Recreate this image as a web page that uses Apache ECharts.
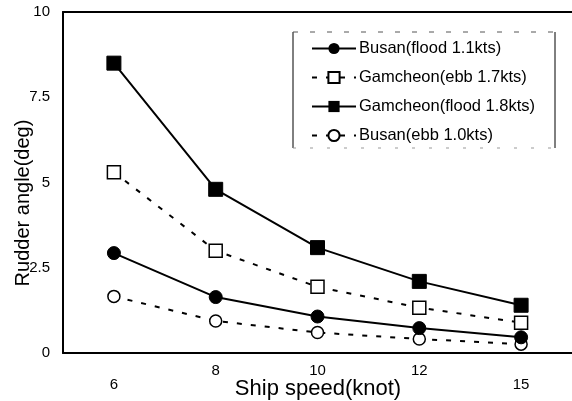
<!DOCTYPE html>
<html>
<head>
<meta charset="utf-8">
<script src="https://cdn.jsdelivr.net/npm/echarts@6/dist/echarts.min.js"></script>
<style>
  html, body { margin: 0; padding: 0; background: #fff; }
  #chart { width: 572px; height: 401px; }
</style>
</head>
<body>
<div id="chart"></div>
<script>
// Ship speed categories (knot)
const speeds = ['6', '8', '10', '12', '15'];
const yTicks = [0, 2.5, 5, 7.5, 10];

// Rudder angle (deg) per tidal condition
const busanFlood = [2.93, 1.64, 1.07, 0.73, 0.46];
const gamcheonEbb = [5.3, 3.0, 1.94, 1.33, 0.89];
const gamcheonFlood = [8.5, 4.8, 3.09, 2.1, 1.4];
const busanEbb = [1.66, 0.94, 0.6, 0.41, 0.26];

const names = [
  'Busan(flood 1.1kts)',
  'Gamcheon(ebb 1.7kts)',
  'Gamcheon(flood 1.8kts)',
  'Busan(ebb 1.0kts)'
];

const FONT = 'Liberation Sans, Arial, sans-serif';
const chart = echarts.init(document.getElementById('chart'), null, { renderer: 'canvas' });

const dashed = { color: '#000', width: 2, type: [5, 9] };
const solid = { color: '#000', width: 2, type: 'solid' };

chart.setOption({
  animation: false,
  backgroundColor: '#fff',
  grid: { left: 63, right: 0, top: 12, bottom: 48 },
  xAxis: [
    {
      type: 'category',
      data: speeds,
      boundaryGap: true,
      axisLine: { lineStyle: { color: '#000', width: 2 } },
      axisTick: { show: false },
      axisLabel: {
        margin: 10,
        fontFamily: FONT,
        fontSize: 15,
        color: '#000',
        // outer speeds sit a little lower than the inner ones
        formatter: (v, i) => (i === 0 || i === speeds.length - 1) ? '{lo|' + v + '}' : '{hi|' + v + '}',
        rich: {
          lo: { fontFamily: FONT, fontSize: 15, color: '#000', padding: [14, 0, 0, 0] },
          hi: { fontFamily: FONT, fontSize: 15, color: '#000', padding: [0, 0, 0, 0] }
        }
      },
      splitLine: { show: false }
    },
    {
      type: 'category',
      data: speeds,
      position: 'top',
      axisLine: { lineStyle: { color: '#000', width: 2 } },
      axisTick: { show: false },
      axisLabel: { show: false },
      splitLine: { show: false }
    }
  ],
  yAxis: {
    type: 'value',
    min: yTicks[0],
    max: yTicks[yTicks.length - 1],
    interval: 2.5,
    axisLine: { show: true, lineStyle: { color: '#000', width: 2 } },
    axisTick: { show: false },
    splitLine: { show: false },
    axisLabel: {
      margin: 13,
      fontFamily: FONT,
      fontSize: 15,
      color: '#000',
      formatter: v => String(v)
    }
  },
  legend: {
    orient: 'vertical',
    left: 311,
    top: 40,
    itemWidth: 44,
    itemHeight: 14,
    itemGap: 12,
    padding: 0,
    textStyle: { fontFamily: FONT, fontSize: 16.5, color: '#000', padding: [0, 0, 0, -2] },
    data: names
  },
  graphic: [
    { type: 'line', shape: { x1: 293, y1: 32, x2: 293, y2: 148 }, style: { stroke: '#000', lineWidth: 1 } },
    { type: 'line', shape: { x1: 555, y1: 32, x2: 555, y2: 148 }, style: { stroke: '#000', lineWidth: 1 } },
    { type: 'line', shape: { x1: 293, y1: 32, x2: 555, y2: 32 }, style: { stroke: '#555', lineWidth: 1, lineDash: [5, 12] } },
    { type: 'line', shape: { x1: 293, y1: 148, x2: 555, y2: 148 }, style: { stroke: '#999', lineWidth: 1, lineDash: [3, 14] } },
    {
      type: 'text', rotation: Math.PI / 2, x: 23, y: 203,
      style: { text: 'Rudder angle(deg)', font: '20px ' + FONT, fill: '#000', align: 'center', verticalAlign: 'middle' }
    },
    {
      type: 'text',
      style: { text: 'Ship speed(knot)', font: '22px ' + FONT, fill: '#000', align: 'center', verticalAlign: 'middle', x: 318, y: 389 }
    }
  ],
  series: [
    {
      name: names[0], type: 'line', data: busanFlood, z: 5,
      symbol: 'circle', symbolSize: 13,
      itemStyle: { color: '#000', borderColor: '#000' },
      lineStyle: solid
    },
    {
      name: names[1], type: 'line', data: gamcheonEbb, z: 3,
      symbol: 'rect', symbolSize: 13,
      itemStyle: { color: '#fff', borderColor: '#000', borderWidth: 1.5 },
      lineStyle: dashed
    },
    {
      name: names[2], type: 'line', data: gamcheonFlood, z: 4,
      symbol: 'rect', symbolSize: 14,
      itemStyle: { color: '#000', borderColor: '#000' },
      lineStyle: solid
    },
    {
      name: names[3], type: 'line', data: busanEbb, z: 2,
      symbol: 'circle', symbolSize: 12,
      itemStyle: { color: '#fff', borderColor: '#000', borderWidth: 1.5 },
      lineStyle: dashed
    }
  ]
});
</script>
</body>
</html>
